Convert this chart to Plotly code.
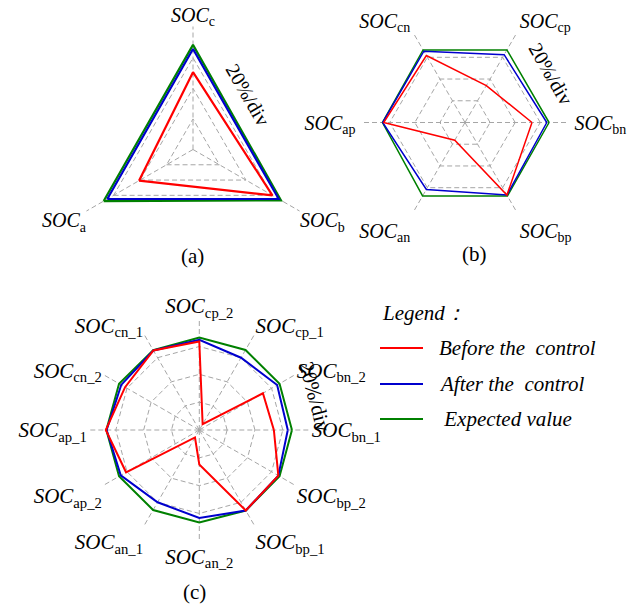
import plotly.graph_objects as go

# ---- data (SOC in %, radial axis 20..100, 20 %/div) ----
cats_a = ["a", "b", "c"]
before_a = [60.8, 80.0, 70.6]
after_a = [84.8, 84.8, 85.8]
expected_a = [87.5, 86.5, 88.5]

cats_b = ["bn", "cp", "cn", "ap", "an", "bp"]
before_b = [73.4, 54.0, 81.6, 84.8, 36.3, 86.8]
after_b = [85.2, 82.4, 85.6, 85.6, 81.6, 86.8]
expected_b = [87.0, 86.8, 86.8, 85.8, 87.6, 87.6]

cats_c = ["bn_1", "bn_2", "cp_1", "cp_2", "cn_1", "cn_2",
          "ap_1", "ap_2", "an_1", "an_2", "bp_1", "bp_2"]
before_c = [73.6, 72.8, 24.8, 83.6, 86.0, 81.6,
            87.2, 80.8, 26.2, 44.8, 86.8, 85.6]
after_c = [83.6, 84.6, 80.0, 84.8, 86.0, 84.8,
           86.6, 85.2, 80.0, 83.2, 86.8, 85.6]
expected_c = [86.6, 86.6, 86.4, 86.4, 86.2, 86.6,
              86.8, 86.6, 86.4, 86.4, 86.8, 86.6]

series_names = ["Before the\u00a0 control", "After the\u00a0 control", "\u00a0Expected value"]
series_colors = ["#ff0000", "#0000cd", "#008000"]

W, H = 639, 606
SERIF = "Liberation Serif"
GRID = "#a6a6a6"


def closed(seq):
    return list(seq) + [seq[0]]


def label(sub):
    return "<i>SOC</i><sub>%s</sub>" % sub


fig = go.Figure()

panels = [
    ("polar", cats_a, [before_a, after_a, expected_a], 2.2),
    ("polar2", cats_b, [before_b, after_b, expected_b], 1.5),
    ("polar3", cats_c, [before_c, after_c, expected_c], 2.0),
]

for subplot, cats, vals, lw in panels:
    # expected first, then after, then before on top
    for k in (2, 1, 0):
        fig.add_trace(go.Scatterpolar(
            r=closed(vals[k]), theta=closed(cats), mode="lines",
            line=dict(color=series_colors[k], width=lw),
            name=series_names[k], showlegend=False, subplot=subplot,
            hoverinfo="skip"))


def px_domain(cx, cy, R):
    return dict(x=[(cx - R) / W, (cx + R) / W],
                y=[1 - (cy + R) / H, 1 - (cy - R) / H])


def polar_layout(cats, dom, rotation, fsize, pad):
    return dict(
        domain=dom,
        gridshape="linear",
        bgcolor="rgba(0,0,0,0)",
        radialaxis=dict(range=[20, 100.5], tickvals=[20, 40, 60, 80, 100],
                        showticklabels=False, ticks="", showline=False,
                        gridcolor=GRID, griddash="5px,3px", gridwidth=1),
        angularaxis=dict(type="category", categoryorder="array",
                         categoryarray=cats, rotation=rotation,
                         direction="counterclockwise",
                         tickvals=cats, ticktext=[label(c) for c in cats],
                         tickfont=dict(family=SERIF, size=fsize, color="black"),
                         showline=False,
                         ticks="outside" if pad else "", ticklen=max(pad, 1),
                         tickcolor="rgba(0,0,0,0)",
                         gridcolor=GRID, griddash="5px,3px", gridwidth=1),
    )


fig.update_layout(
    width=W, height=H, autosize=False,
    margin=dict(l=0, r=0, t=0, b=0),
    paper_bgcolor="white", plot_bgcolor="white",
    font=dict(family=SERIF, color="black"),
    showlegend=False,
    polar=polar_layout(cats_a, px_domain(193, 149.5, 123), 210, 20, 0),
    polar2=polar_layout(cats_b, px_domain(465, 122.5, 101), 0, 20, 4),
    polar3=polar_layout(cats_c, px_domain(199.3, 430, 112), 0, 21, 0),
)

annotations = []


def text_at(x, y, txt, size, angle=0, italic=False, xanchor="center"):
    annotations.append(dict(
        x=x / W, y=1 - y / H, xref="paper", yref="paper",
        text=("<i>%s</i>" % txt) if italic else txt,
        showarrow=False, textangle=angle, xanchor=xanchor, yanchor="middle",
        font=dict(family=SERIF, size=size, color="black")))


# scale notes
text_at(248, 95, "20%/div", 20, angle=60)
text_at(551, 74, "20%/div", 20, angle=60)
text_at(315, 397, "20%/div", 21, angle=75)

# panel captions
text_at(193, 256, "(a)", 21)
text_at(474, 254, "(b)", 21)
text_at(194, 592, "(c)", 21)

# legend block
text_at(380, 313, "Legend\uff1a", 21, italic=True, xanchor="left")
legend_rows = [348, 384, 419]
shapes = []
for name, color, yy in zip(series_names, series_colors, legend_rows):
    shapes.append(dict(type="line", xref="paper", yref="paper",
                       x0=380 / W, x1=423 / W, y0=1 - yy / H, y1=1 - yy / H,
                       line=dict(color=color, width=2)))
    text_at(437, yy, name, 21, italic=True, xanchor="left")

fig.update_layout(annotations=annotations, shapes=shapes)

fig.write_html("out.html")
